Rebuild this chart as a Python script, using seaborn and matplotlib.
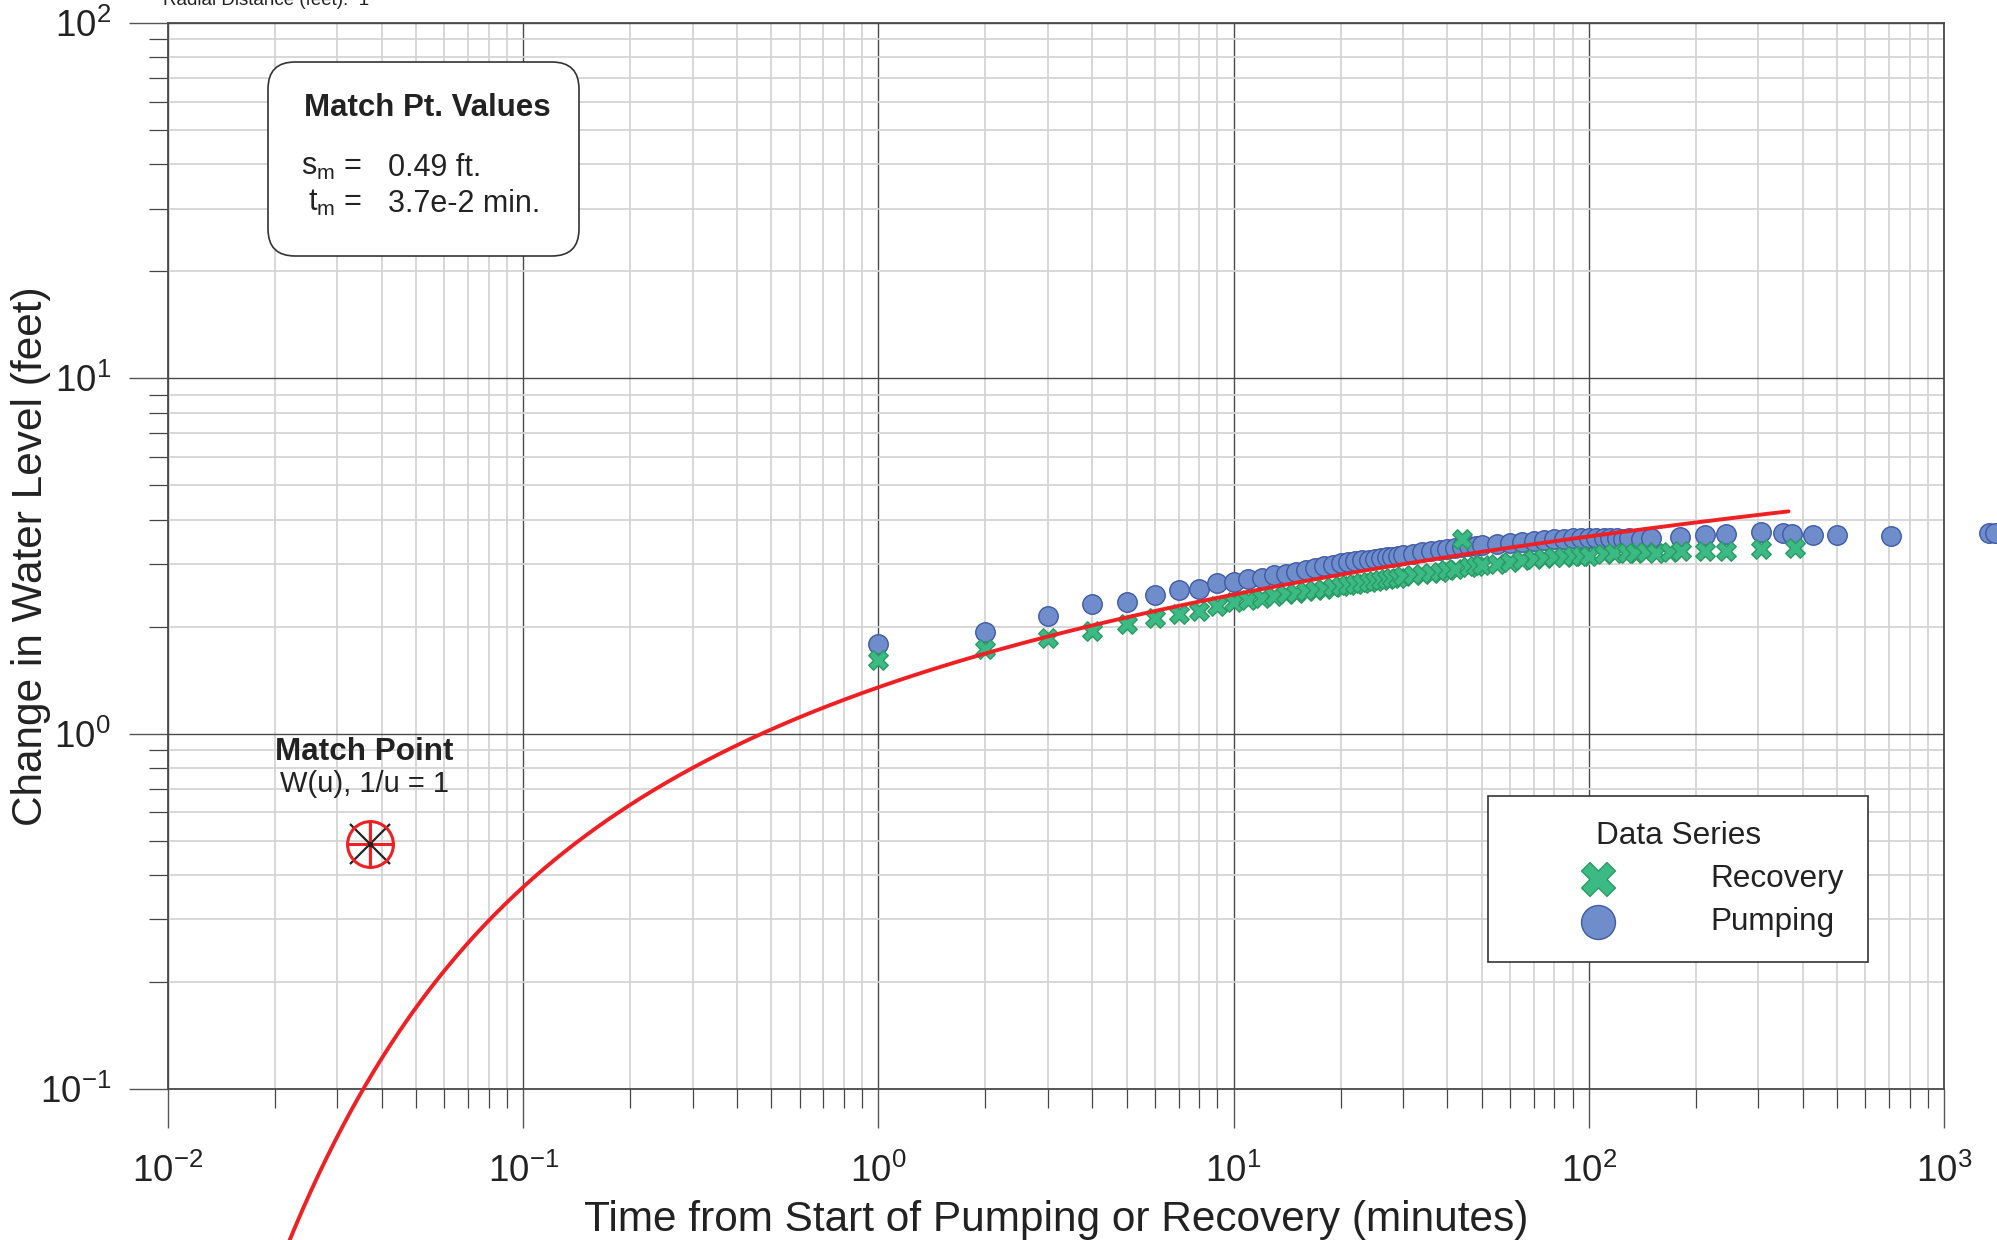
import numpy as np
import pandas as pd
import matplotlib
matplotlib.use("Agg")
import matplotlib.pyplot as plt
import seaborn as sns
from matplotlib.patches import FancyBboxPatch
from matplotlib.transforms import Affine2D
from matplotlib.ticker import LogLocator, NullFormatter

# ---------------- data ----------------
pump_time = [1, 2, 3, 4, 5, 6, 7, 8, 9, 10,
             11, 12, 13, 14, 15, 16, 17, 18, 19, 20,
             21, 22, 23, 24, 25, 26, 27, 28, 29, 30,
             32, 34, 36, 38, 40, 42, 44, 46, 48, 50,
             55, 60, 65, 70, 75, 80, 85, 90, 95, 100,
             105, 110, 115, 120, 125, 130, 140, 150,
             181, 212, 243, 305, 352, 373, 427, 500, 710, 1340, 1390]
pump_drawdown = [1.79, 1.93, 2.15, 2.32, 2.34, 2.45, 2.53, 2.56, 2.66, 2.68,
                 2.72, 2.75, 2.79, 2.82, 2.86, 2.89, 2.92, 2.96, 2.99, 3.03,
                 3.04, 3.06, 3.08, 3.09, 3.11, 3.12, 3.14, 3.15, 3.17, 3.19,
                 3.21, 3.24, 3.26, 3.28, 3.31, 3.33, 3.35, 3.37, 3.38, 3.40,
                 3.42, 3.45, 3.47, 3.49, 3.51, 3.53, 3.54, 3.55, 3.55, 3.56,
                 3.55, 3.55, 3.56, 3.55, 3.54, 3.55, 3.54, 3.55,
                 3.58, 3.63, 3.64, 3.69, 3.67, 3.65, 3.63, 3.62, 3.59, 3.66, 3.66]

rec_time = [1, 2, 3, 4, 5, 6, 7, 8, 9, 10,
            11, 12, 13, 14, 15, 16, 17, 18, 19, 20,
            21, 22, 23, 24, 25, 26, 27, 28, 29, 30,
            32, 34, 36, 38, 40, 42, 44, 46, 48, 50,
            55, 60, 65, 70, 75, 80, 85, 90, 95, 100,
            110, 118, 128, 135, 145, 155, 169, 182, 212, 243, 305, 381]
rec_drawdown = [1.61, 1.73, 1.86, 1.95, 2.04, 2.11, 2.17, 2.22, 2.28, 2.34,
                2.38, 2.41, 2.44, 2.47, 2.49, 2.52, 2.54, 2.56, 2.58, 2.60,
                2.62, 2.64, 2.66, 2.68, 2.69, 2.71, 2.72, 2.74, 2.75, 2.77,
                2.79, 2.82, 2.84, 2.86, 2.89, 2.91, 3.52, 2.94, 2.96, 2.99,
                3.01, 3.05, 3.08, 3.10, 3.12, 3.14, 3.15, 3.16, 3.17, 3.17,
                3.20, 3.23, 3.23, 3.23, 3.24, 3.23, 3.24, 3.26, 3.26, 3.26, 3.30, 3.33]

# Theis match point
match_s = 0.49      # ft
match_t = 3.7e-2    # min
curve_t_range = (0.015, 365.0)

x_ticks = [1e-2, 1e-1, 1e0, 1e1, 1e2, 1e3]
y_ticks = [1e-1, 1e0, 1e1, 1e2]

# ---------------- style ----------------
sns.set_theme(style="white")
FONT = ["Liberation Sans", "DejaVu Sans"]
plt.rcParams["font.family"] = FONT
plt.rcParams["mathtext.fontset"] = "custom"
plt.rcParams["mathtext.rm"] = "Liberation Sans"
plt.rcParams["mathtext.it"] = "Liberation Sans"
plt.rcParams["mathtext.default"] = "regular"
plt.rcParams["axes.unicode_minus"] = False

W, H = 1997, 1240
fig = plt.figure(figsize=(W / 100, H / 100), dpi=100)
ax = fig.add_axes([168 / W, 1 - 1089 / H, 1776 / W, 1066 / H])
px = Affine2D().scale(1 / W, 1 / H) + fig.transFigure   # pixel units, origin bottom-left

ax.set_xscale("log")
ax.set_yscale("log")
ax.set_xlim(x_ticks[0], x_ticks[-1])
ax.set_ylim(y_ticks[0], y_ticks[-1])
ax.set_xticks(x_ticks)
ax.set_yticks(y_ticks)
for axis in (ax.xaxis, ax.yaxis):
    axis.set_minor_locator(LogLocator(base=10, subs=np.arange(2, 10), numticks=50))
    axis.set_minor_formatter(NullFormatter())

ax.grid(which="minor", color="#d4d4d4", lw=1.3, zorder=0)
ax.grid(which="major", color="#4a4a4a", lw=1.0, zorder=0)
ax.set_axisbelow(True)
for sp in ax.spines.values():
    sp.set_color("#4a4a4a")
    sp.set_linewidth(1.3)

ax.tick_params(which="both", bottom=True, left=True, top=False, right=False)
ax.tick_params(which="major", direction="out", length=28, width=1.0, color="#555555",
               labelsize=26.5, labelcolor="#222222")
ax.tick_params(axis="x", which="major", pad=19)
ax.tick_params(axis="y", which="major", pad=13)
ax.tick_params(which="minor", direction="out", length=14, width=0.9, color="#444444")

# ---------------- data series ----------------
pump_df = pd.DataFrame({"time": pump_time, "drawdown": pump_drawdown})
rec_df = pd.DataFrame({"time": rec_time, "drawdown": rec_drawdown})

sns.scatterplot(data=pump_df, x="time", y="drawdown", ax=ax, marker="o", s=197,
                color="#6f8dca", edgecolor="#3f5aa6", linewidth=1.0,
                label="Pumping", legend=False, clip_on=False, zorder=3)
sns.scatterplot(data=rec_df, x="time", y="drawdown", ax=ax, marker="X", s=197,
                color="#3cba86", edgecolor="#2a9a62", linewidth=1.0,
                label="Recovery", legend=False, clip_on=False, zorder=4)
pump_coll, rec_coll = ax.collections[0], ax.collections[1]


# Theis type curve through the match point: s = s_m * W(u), t = t_m / u
def well_function(u):
    u = np.asarray(u, dtype=float)
    total = -0.5772156649 - np.log(u)
    term = np.ones_like(u)
    for n in range(1, 60):
        term = term * (-u) / n
        total -= term / n
    return total


t_curve = np.logspace(np.log10(curve_t_range[0]), np.log10(curve_t_range[1]), 600)
s_curve = match_s * well_function(match_t / t_curve)
ax.plot(t_curve, s_curve, color="#ee2024", lw=2.8, clip_on=False, zorder=5)

# match point symbol
ax.plot([match_t], [match_s], marker="x", ms=29.5, mew=1.6, color="#222222", ls="none", zorder=6, clip_on=False)
ax.plot([match_t], [match_s], marker="|", ms=30, mew=1.6, color="#222222", ls="none", zorder=6, clip_on=False)
ax.plot([match_t], [match_s], marker="o", ms=33, mew=2.2, mfc="none", mec="#ee2024", ls="none", zorder=7, clip_on=False)
ax.plot([match_t], [match_s], marker="+", ms=34, mew=2.2, color="#ee2024", ls="none", zorder=7, clip_on=False)
ax.plot([match_t], [match_s], marker="o", ms=3, color="#222222", ls="none", zorder=8, clip_on=False)

ax.annotate("Match Point", xy=(match_t, match_s), xycoords="data", xytext=(-4, 60.5),
            textcoords="offset points", ha="center", va="baseline",
            fontsize=22.6, fontweight="bold", color="#222222")
ax.annotate("W(u), 1/u = 1", xy=(match_t, match_s), xycoords="data", xytext=(-4, 37.4),
            textcoords="offset points", ha="center", va="baseline",
            fontsize=21, color="#222222")

# ---------------- labels ----------------
ax.set_xlabel("Time from Start of Pumping or Recovery (minutes)", fontsize=30.5, color="#222222")
ax.set_ylabel("Change in Water Level (feet)", fontsize=30.5, color="#222222")
ax.xaxis.set_label_coords(0.5, -0.1038)
ax.yaxis.set_label_coords(-0.066, 0.5)

# ---------------- match point values box ----------------
box = FancyBboxPatch((268, H - 256), 311, 194, boxstyle="round,pad=0,rounding_size=27",
                     transform=px, facecolor="white", edgecolor="#333333", lw=1.2, zorder=10)
fig.add_artist(box)
fig.text(427, H - 116, "Match Pt. Values", transform=px, ha="center", va="baseline",
         fontsize=22.5, fontweight="bold", color="#222222", zorder=11)
fig.text(362, H - 175, r"s$_\mathregular{m}$ =", transform=px, ha="right", va="baseline",
         fontsize=22, color="#222222", zorder=11)
fig.text(362, H - 211, r"t$_\mathregular{m}$ =", transform=px, ha="right", va="baseline",
         fontsize=22, color="#222222", zorder=11)
fig.text(388, H - 176, f"{match_s} ft.", transform=px, ha="left", va="baseline",
         fontsize=22, color="#222222", zorder=11)
fig.text(388, H - 212, "3.7e-2 min.", transform=px, ha="left", va="baseline",
         fontsize=22, color="#222222", zorder=11)

# header line running off the top of the page
fig.text(163, H - 5, "Radial Distance (feet):  1", transform=px, ha="left", va="baseline",
         fontsize=13.5, color="#222222")

# ---------------- legend ----------------
leg = ax.legend(handles=[rec_coll, pump_coll], labels=["Recovery", "Pumping"],
                title="Data Series", loc="upper left",
                bbox_to_anchor=(1488 / W, 1 - 796 / H), bbox_transform=fig.transFigure,
                borderaxespad=0, borderpad=0.78, handlelength=5.42, handletextpad=0.85,
                labelspacing=0.42, markerscale=1.74, scatterpoints=1,
                fontsize=22.7, title_fontsize=22.7, frameon=True, fancybox=False,
                edgecolor="#333333", framealpha=1)
leg.get_frame().set_linewidth(1.2)
leg.set_zorder(20)
for txt in leg.get_texts():
    txt.set_color("#222222")
leg.get_title().set_color("#222222")

fig.savefig("out.png", dpi=100)
